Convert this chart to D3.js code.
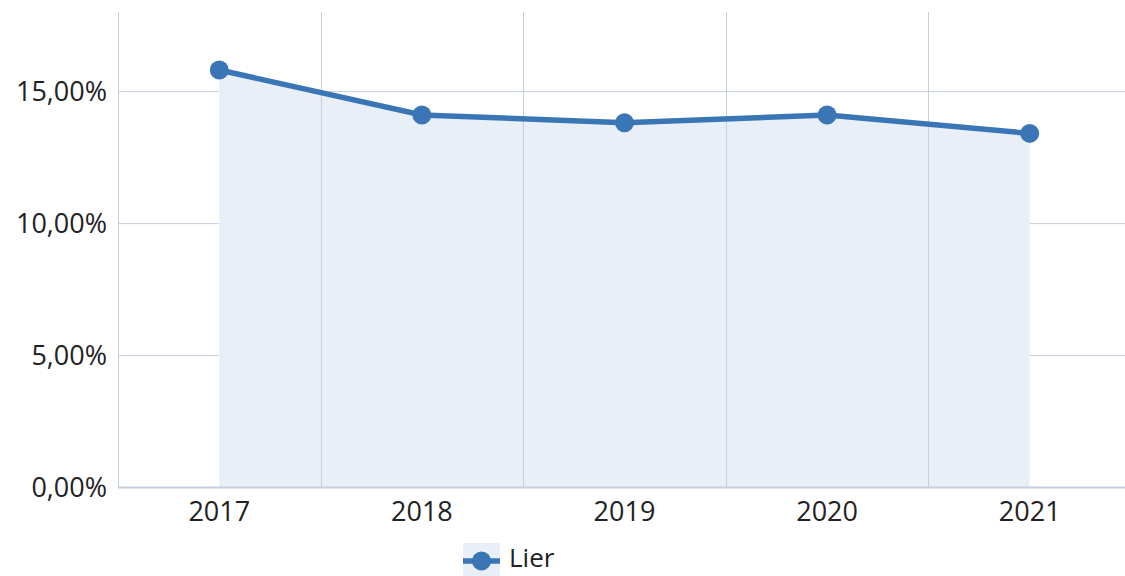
<!DOCTYPE html>
<html>
<head>
<meta charset="utf-8">
<script src="https://cdn.jsdelivr.net/npm/d3@7"></script>
<style>
  html, body { margin: 0; padding: 0; background: #fff; overflow: hidden; }
  text { font-family: "Open Sans", "Noto Sans", sans-serif; fill: #222; }
</style>
</head>
<body>
<div class="chart"></div>
<script>
// Share over the years, one series
var years = ["2017", "2018", "2019", "2020", "2021"];
var values = [15.8, 14.1, 13.8, 14.1, 13.4];
var yTicks = [0, 5, 10, 15];
var seriesName = "Lier";

var svgWidth = 1125, svgHeight = 576;
var margin = { top: 12, left: 118, bottom: 89 };
var plotRight = 1131; // plot runs a little past the window edge
var height = svgHeight - margin.top - margin.bottom;

var lineColor = "#3a76b5";
var fillColor = "#e8eff7";
var gridColor = "#c6cfdf";

var svg = d3.select(".chart")
  .append("svg")
  .attr("width", svgWidth)
  .attr("height", svgHeight);

var xScale = d3.scaleBand()
  .domain(years)
  .range([margin.left, plotRight]);

var yScale = d3.scaleLinear()
  .domain([0, 18])
  .range([margin.top + height, margin.top]);

var cx = d => xScale(d) + xScale.bandwidth() / 2;

// horizontal grid
svg.append("g")
  .selectAll("line")
  .data(yTicks.filter(t => t > 0))
  .enter()
  .append("line")
  .attr("x1", margin.left)
  .attr("x2", plotRight)
  .attr("y1", d => yScale(d) + 0.5)
  .attr("y2", d => yScale(d) + 0.5)
  .attr("stroke", gridColor)
  .attr("stroke-width", 1);

// area under the line
var data = years.map((y, i) => ({ year: y, value: values[i] }));

svg.append("path")
  .datum(data)
  .attr("fill", fillColor)
  .attr("d", d3.area()
    .x(d => cx(d.year))
    .y0(yScale(0))
    .y1(d => yScale(d.value)));

// vertical grid at band edges
svg.append("g")
  .selectAll("line")
  .data(years.slice(1))
  .enter()
  .append("line")
  .attr("x1", d => Math.round(xScale(d)) + 0.5)
  .attr("x2", d => Math.round(xScale(d)) + 0.5)
  .attr("y1", margin.top)
  .attr("y2", yScale(0))
  .attr("stroke", gridColor)
  .attr("stroke-width", 1);

// left axis line + bottom axis line
svg.append("line")
  .attr("x1", margin.left + 0.5).attr("x2", margin.left + 0.5)
  .attr("y1", margin.top).attr("y2", yScale(0) + 1)
  .attr("stroke", gridColor);

svg.append("line")
  .attr("x1", margin.left).attr("x2", plotRight)
  .attr("y1", yScale(0) + 0.5).attr("y2", yScale(0) + 0.5)
  .attr("stroke", gridColor)
  .attr("stroke-width", 2);

// y tick labels
svg.append("g")
  .selectAll("text")
  .data(yTicks)
  .enter()
  .append("text")
  .attr("x", 107)
  .attr("y", d => yScale(d))
  .attr("dy", "0.36em")
  .attr("text-anchor", "end")
  .attr("font-size", 27)
  .text(d => d3.format(".2f")(d).replace(".", ",") + "%");

// x tick labels
svg.append("g")
  .selectAll("text")
  .data(years)
  .enter()
  .append("text")
  .attr("x", d => cx(d))
  .attr("y", 521)
  .attr("text-anchor", "middle")
  .attr("font-size", 27)
  .text(d => d);

// the line and its points
svg.append("path")
  .datum(data)
  .attr("fill", "none")
  .attr("stroke", lineColor)
  .attr("stroke-width", 5.5)
  .attr("d", d3.line()
    .x(d => cx(d.year))
    .y(d => yScale(d.value)));

svg.append("g")
  .selectAll("circle")
  .data(data)
  .enter()
  .append("circle")
  .attr("cx", d => cx(d.year))
  .attr("cy", d => yScale(d.value))
  .attr("r", 9.5)
  .attr("fill", lineColor);

// legend
var legend = svg.append("g").attr("transform", "translate(463, 543)");
legend.append("rect")
  .attr("width", 37).attr("height", 33)
  .attr("fill", fillColor);
legend.append("line")
  .attr("x1", 0).attr("x2", 37)
  .attr("y1", 18).attr("y2", 18)
  .attr("stroke", lineColor)
  .attr("stroke-width", 5.5);
legend.append("circle")
  .attr("cx", 18.5).attr("cy", 18)
  .attr("r", 9.5)
  .attr("fill", lineColor);
legend.append("text")
  .attr("x", 46).attr("y", 24)
  .attr("font-size", 26)
  .text(seriesName);
</script>
</body>
</html>
